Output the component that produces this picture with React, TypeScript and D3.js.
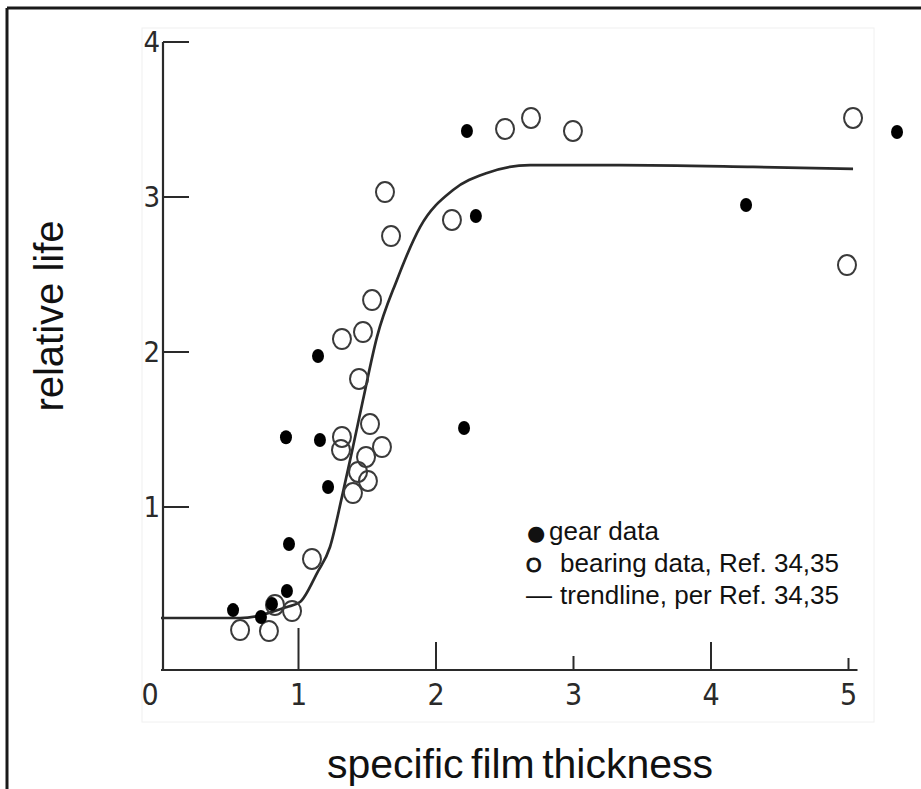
import React from "react";
import * as d3 from "d3";

// gear data (filled)
const gearX = [0.524, 0.727, 0.807, 0.916, 0.931, 0.909, 1.142, 1.156, 1.215, 2.225, 2.29, 2.204, 4.255, 5.353];
const gearY = [0.335, 0.29, 0.374, 0.458, 0.761, 1.45, 1.974, 1.432, 1.129, 3.426, 2.877, 1.51, 2.948, 3.419];

// bearing data (open)
const bearX = [0.575, 0.785, 0.829, 0.953, 1.098, 1.316, 1.309, 1.52, 1.607, 1.491, 1.433, 1.505, 1.396, 1.44, 1.316, 1.469, 1.535, 1.629, 1.673, 2.116, 2.502, 2.691, 2.996, 5.033, 4.989];
const bearY = [0.206, 0.2, 0.368, 0.329, 0.665, 1.452, 1.368, 1.535, 1.387, 1.323, 1.226, 1.168, 1.09, 1.826, 2.084, 2.129, 2.335, 3.032, 2.748, 2.852, 3.439, 3.51, 3.426, 3.51, 2.561];

// trendline
const trendX = [0, 0.575, 0.916, 1.011, 1.135, 1.229, 1.316, 1.396, 1.469, 1.571, 1.716, 1.884, 2.124, 2.371, 2.684, 3.338, 4.305, 5.033];
const trendY = [0.284, 0.284, 0.355, 0.387, 0.574, 0.742, 1.065, 1.387, 1.69, 2.097, 2.465, 2.806, 3.045, 3.155, 3.206, 3.206, 3.194, 3.181];

const xTicks = [0, 1, 2, 3, 4, 5];
const yTicks = [1, 2, 3, 4];
const xTickLen = [0, 42, 28, 14, 28, 12];

const legendSymbols = ["●", "O", "—"];
const legendLabels = ["gear data", "bearing data, Ref. 34,35", "trendline, per Ref. 34,35"];

export default function App() {
  const W = 921, H = 789;
  const x = d3.scaleLinear().domain([0, 5]).range([161, 848.5]);
  const y = d3.scaleLinear().domain([0, 4]).range([662, 42]);
  const axisY = 670;
  const axisX = 163;
  const ink = "#2a2a2a";
  const line = d3.line<number>()
    .x((_, i) => x(trendX[i]))
    .y((d) => y(d))
    .curve(d3.curveMonotoneX);
  const tickFont = "'Liberation Sans Narrow', 'DejaVu Sans Condensed', sans-serif";
  const sans = "'Liberation Sans', Arial, sans-serif";
  const symX = [527, 526, 526];
  const symFont = ["'DejaVu Sans', sans-serif", sans, sans];
  const symSize = [21, 20, 26];
  const symStroke = [0, 0.9, 0];
  const labX = [549, 560, 560];
  return (
    <svg width={W} height={H} style={{ position: "absolute", left: 0, top: 0, background: "#fff" }}>
      {/* frame */}
      <line x1={7} y1={8} x2={W} y2={8} stroke="#1a1a1a" strokeWidth={3} />
      <line x1={7} y1={8} x2={7} y2={H} stroke="#1a1a1a" strokeWidth={3} />
      {/* faint scan border */}
      <rect x={142} y={28} width={732} height={694} fill="none" stroke="#f0f0f0" strokeWidth={1} />
      {/* axes */}
      <line x1={axisX} y1={y(4)} x2={axisX} y2={axisY} stroke={ink} strokeWidth={2.2} />
      <line x1={axisX - 2} y1={axisY} x2={x(5) + 9} y2={axisY} stroke={ink} strokeWidth={2.2} />
      {yTicks.map((t) => (
        <g key={"yt" + t}>
          <line x1={axisX} y1={y(t)} x2={axisX + 26} y2={y(t)} stroke={ink} strokeWidth={2} />
          <text x={axisX - 3} y={y(t)} dy="0.36em" textAnchor="end" fontFamily={tickFont} fontSize={29} fill={ink}>{t}</text>
        </g>
      ))}
      {xTicks.map((t, i) => (
        <g key={"xt" + t}>
          {xTickLen[i] > 0 && <line x1={x(t)} y1={axisY} x2={x(t)} y2={axisY - xTickLen[i]} stroke={ink} strokeWidth={2} />}
          <text x={t === 0 ? x(t) - 11 : x(t)} y={705} textAnchor="middle" fontFamily={tickFont} fontSize={30} fill={ink}>{t}</text>
        </g>
      ))}
      {/* trendline */}
      <path d={line(trendY) || ""} fill="none" stroke={ink} strokeWidth={2.7} />
      {/* bearing data */}
      {bearX.map((v, i) => (
        <ellipse key={"b" + i} cx={x(v)} cy={y(bearY[i])} rx={9} ry={10} fill="none" stroke="#3a3a3a" strokeWidth={2} />
      ))}
      {/* gear data */}
      {gearX.map((v, i) => (
        <ellipse key={"g" + i} cx={x(v)} cy={y(gearY[i])} rx={6} ry={7} fill="#000" />
      ))}
      {/* legend */}
      {legendLabels.map((s, i) => (
        <g key={"l" + i}>
          <text x={symX[i]} y={540 + i * 32} fontFamily={symFont[i]} fontSize={symSize[i]} stroke={symStroke[i] ? "#111" : "none"} strokeWidth={symStroke[i]} fill="#111">{legendSymbols[i]}</text>
          <text x={labX[i]} y={540 + i * 32} fontFamily={sans} fontSize={26} fill="#111">{s}</text>
        </g>
      ))}
      {/* axis titles */}
      <text transform="translate(63,316) rotate(-90)" textAnchor="middle" fontFamily={sans} fontSize={40} fill="#111">relative life</text>
      <text x={520} y={778} textAnchor="middle" fontFamily={sans} fontSize={41} wordSpacing={-4} fill="#111">specific film thickness</text>
    </svg>
  );
}
